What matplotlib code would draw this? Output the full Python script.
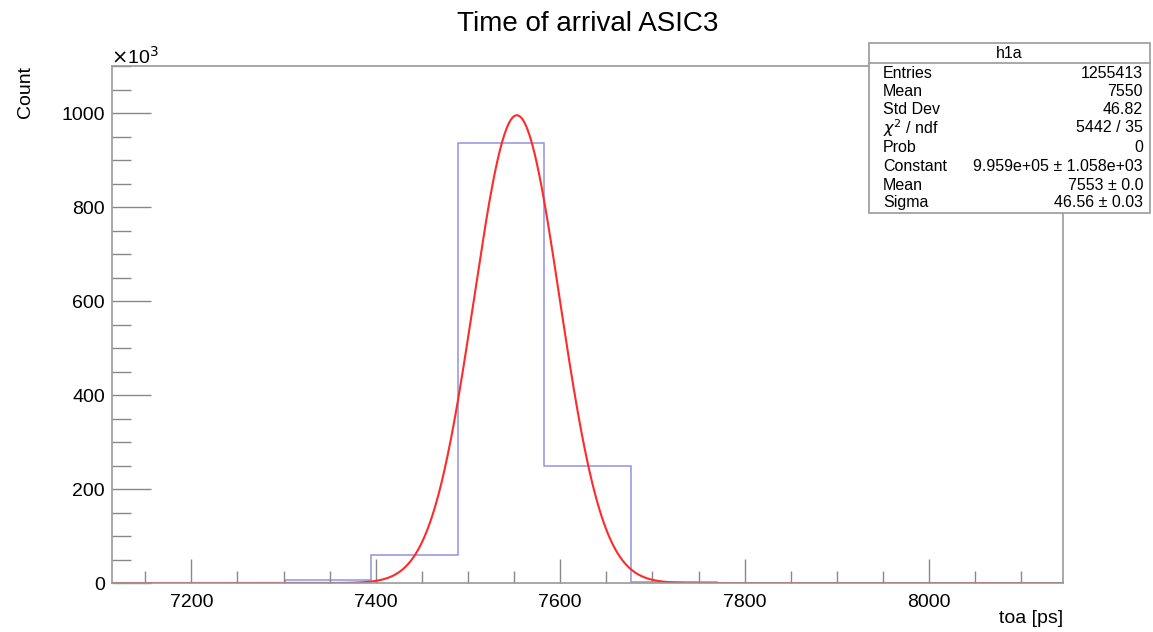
import numpy as np
import matplotlib
matplotlib.use("Agg")
import matplotlib.pyplot as plt
from matplotlib.patches import Rectangle
from matplotlib.ticker import MultipleLocator

plt.rcParams["font.family"] = ["Liberation Sans", "DejaVu Sans"]

# histogram (toa in ps, counts in units of 10^3)
bin_edges = [7114.0, 7207.75, 7301.5, 7395.25, 7489.0, 7582.75, 7676.5,
             7770.25, 7864.0, 7957.75, 8051.5, 8145.25]
counts_k = [0, 0, 6.0, 60.0, 937.0, 250.0, 2.4, 0, 0, 0, 0]

# gaussian fit parameters
fit_const = 9.959e5
fit_mean = 7553.0
fit_sigma = 46.56

stats_names = ["Entries", "Mean", "Std Dev", r"$\chi^2$ / ndf", "Prob",
               "Constant", "Mean", "Sigma"]
stats_values = ["1255413", "7550", "46.82", "5442 / 35", "0",
                "9.959e+05 \u00b1 1.058e+03", "7553 \u00b1 0.0", "46.56 \u00b1 0.03"]

fig = plt.figure(figsize=(11.53, 6.32), dpi=100)
ax = fig.add_axes([0.0971, 0.0775, 0.9220 - 0.0971, 0.895 - 0.0775])

ax.stairs(counts_k, bin_edges, color="#9292e2", linewidth=1.1)
xs = np.linspace(bin_edges[0], bin_edges[-1], 800)
ax.plot(xs, fit_const * np.exp(-0.5 * ((xs - fit_mean) / fit_sigma) ** 2) / 1e3,
        color="#ff2a2a", linewidth=1.5)

ax.set_xlim(bin_edges[0], bin_edges[-1])
ax.set_ylim(0, 1100)
ax.xaxis.set_major_locator(MultipleLocator(200))
ax.xaxis.set_minor_locator(MultipleLocator(50))
ax.yaxis.set_major_locator(MultipleLocator(200))
ax.yaxis.set_minor_locator(MultipleLocator(50))

for s in ax.spines.values():
    s.set_color("#9a9a9a")
    s.set_linewidth(1.2)
ax.tick_params(axis="x", which="major", direction="in", length=17, width=1,
               color="#888888", labelsize=14, pad=8)
ax.tick_params(axis="x", which="minor", direction="in", length=9, width=1,
               color="#888888")
ax.tick_params(axis="y", which="major", direction="in", length=28, width=1,
               color="#888888", labelsize=14, pad=5)
ax.tick_params(axis="y", which="minor", direction="in", length=14, width=1,
               color="#888888")

fig.text(0.51, 0.962, "Time of arrival ASIC3", ha="center", va="center", fontsize=20)
fig.text(0.922, 0.022, "toa [ps]", ha="right", va="center", fontsize=14)
fig.text(0.022, 0.854, "Count", ha="center", va="center", rotation=90, fontsize=14)
fig.text(0.096, 0.910, r"$\times$10$^3$", ha="left", va="center", fontsize=14)

# stats box
bx0, bx1 = 869 / 1153, 1150 / 1153
by0, by1 = 1 - 213 / 632, 1 - 43 / 632
fig.patches.append(Rectangle((bx0, by0), bx1 - bx0, by1 - by0, transform=fig.transFigure,
                             facecolor="white", edgecolor="#9a9a9a", linewidth=1.2,
                             zorder=5))
hy = 1 - 63 / 632
fig.lines.append(plt.Line2D([bx0, bx1], [hy, hy], transform=fig.transFigure,
                            color="#9a9a9a", linewidth=1.2, zorder=6))
fig.text((bx0 + bx1) / 2, 1 - 53 / 632, "h1a", ha="center", va="center",
         fontsize=11.5, zorder=7)
row_y = [73, 91, 109, 128, 147, 166, 185, 203]
for name, val, ry in zip(stats_names, stats_values, row_y):
    fig.text(883 / 1153, 1 - ry / 632, name, ha="left", va="center", fontsize=11.5, zorder=7)
    fig.text(1143 / 1153, 1 - ry / 632, val, ha="right", va="center", fontsize=11.5, zorder=7)

fig.savefig("out.png", dpi=100, facecolor="white")
